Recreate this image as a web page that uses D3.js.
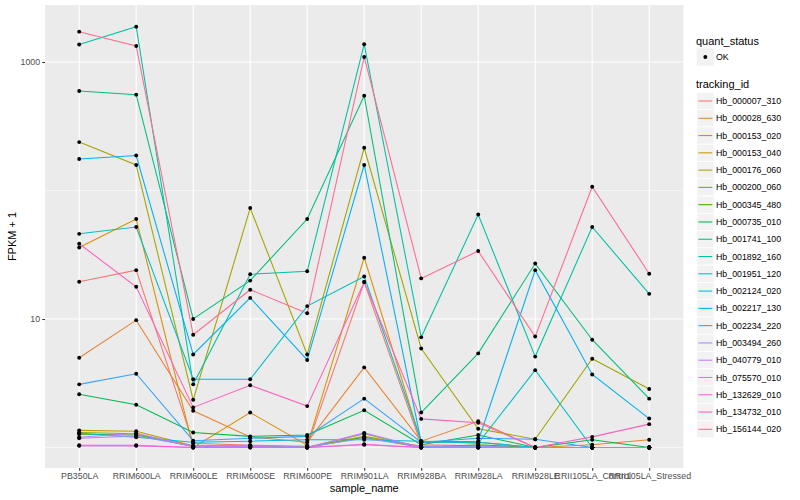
<!DOCTYPE html>
<html>
<head>
<meta charset="utf-8">
<script src="https://cdn.jsdelivr.net/npm/d3@7"></script>
<style>
  body { margin: 0; background: #fff; }
  svg { display: block; font-family: "Liberation Sans", Arial, Helvetica, sans-serif; }
</style>
</head>
<body>
<div id="chart"></div>
<script>
// samples on the x axis
const samples = ["PB350LA", "RRIM600LA", "RRIM600LE", "RRIM600SE", "RRIM600PE", "RRIM901LA",
                 "RRIM928BA", "RRIM928LA", "RRIM928LE", "RRII105LA_Control", "RRII105LA_Stressed"];

// FPKM + 1 per gene, one value per sample
const hb_000007_310 = [19.5, 24, 1.08, 1.04, 1.02, 19.4, 1.05, 1.03, 1.0, 1.0, 1.0];
const hb_000028_630 = [5.0, 9.8, 1.93, 1.21, 1.1, 4.2, 1.12, 1.6, 1.0, 1.05, 1.15];
const hb_000153_020 = [36, 60, 1.0, 1.87, 1.04, 30, 1.1, 1.1, 1.0, 1.0, 1.0];
const hb_000153_040 = [1.36, 1.34, 1.03, 1.03, 1.01, 1.22, 1.02, 1.02, 1.0, 1.0, 1.0];
const hb_000176_060 = [238, 158, 2.35, 73, 5.3, 215, 5.9, 1.40, 1.16, 4.9, 2.85];
const hb_000200_060 = [1.31, 1.28, 1.02, 1.02, 1.0, 1.28, 1.0, 1.0, 1.0, 1.0, 1.0];
const hb_000345_480 = [1.27, 1.25, 1.02, 1.02, 1.0, 1.2, 1.0, 1.05, 1.0, 1.0, 1.0];
const hb_000735_010 = [2.6, 2.15, 1.31, 1.22, 1.25, 1.95, 1.05, 1.25, 1.0, 1.15, 1.0];
const hb_001741_100 = [594, 557, 10, 19.9, 60, 547, 1.87, 5.4, 27, 6.9, 2.4];
const hb_001892_160 = [1368, 1885, 3.1, 22.3, 23.5, 1375, 7.2, 65, 5.1, 52, 15.7];
const hb_001951_120 = [46, 52, 3.4, 3.4, 12.6, 21.4, 1.12, 1.08, 4.0, 1.0, 1.0];
const hb_002124_020 = [1.29, 1.2, 1.1, 1.12, 1.15, 1.15, 1.12, 1.1, 1.0, 1.0, 1.0];
const hb_002217_130 = [176, 187, 5.3, 14.6, 4.8, 158, 1.1, 1.12, 24, 3.7, 1.68];
const hb_002234_220 = [3.1, 3.75, 1.13, 1.18, 1.22, 2.4, 1.1, 1.18, 1.16, 1.0, 1.0];
const hb_003494_260 = [1.18, 1.23, 1.03, 1.04, 1.01, 1.18, 1.02, 1.02, 1.0, 1.0, 1.0];
const hb_040779_010 = [1.2, 1.29, 1.02, 1.02, 1.0, 1.3, 1.0, 1.0, 1.0, 1.0, 1.0];
const hb_075570_010 = [1.03, 1.03, 1.0, 1.0, 1.0, 1.06, 1.0, 1.0, 1.0, 1.0, 1.0];
const hb_132629_010 = [1.04, 1.04, 1.0, 1.0, 1.0, 1.05, 1.0, 1.0, 1.0, 1.0, 1.0];
const hb_134732_010 = [38.5, 17.8, 2.05, 3.05, 2.1, 19.4, 1.67, 1.56, 1.0, 1.21, 1.52];
const hb_156144_020 = [1722, 1333, 7.55, 16.9, 11.1, 1094, 20.7, 33.8, 7.3, 107, 22.5];

const trackingIds = ["Hb_000007_310", "Hb_000028_630", "Hb_000153_020", "Hb_000153_040", "Hb_000176_060",
                     "Hb_000200_060", "Hb_000345_480", "Hb_000735_010", "Hb_001741_100", "Hb_001892_160",
                     "Hb_001951_120", "Hb_002124_020", "Hb_002217_130", "Hb_002234_220", "Hb_003494_260",
                     "Hb_040779_010", "Hb_075570_010", "Hb_132629_010", "Hb_134732_010", "Hb_156144_020"];
const seriesValues = [hb_000007_310, hb_000028_630, hb_000153_020, hb_000153_040, hb_000176_060,
                      hb_000200_060, hb_000345_480, hb_000735_010, hb_001741_100, hb_001892_160,
                      hb_001951_120, hb_002124_020, hb_002217_130, hb_002234_220, hb_003494_260,
                      hb_040779_010, hb_075570_010, hb_132629_010, hb_134732_010, hb_156144_020];

const yTicks = [10, 1000];
const yMinor = [1, 100];

// ggplot hue palette, 20 levels
const palette = ["#F8766D", "#EA8331", "#D89000", "#C09B00", "#A3A500", "#7CAE00", "#39B600", "#00BB4E",
                 "#00BF7D", "#00C1A3", "#00BFC4", "#00BAE0", "#00B0F6", "#35A2FF", "#9590FF", "#C77CFF",
                 "#E76BF3", "#FA62DB", "#FF62BC", "#FF6C91"];

let series = trackingIds.map(function(id, i){
    return { id: id, values: samples.map(function(s, j){ return { sample: s, v: seriesValues[i][j] }; }) };
});

let W = 800, H = 500;
let panel = { left: 45, right: 683.4, top: 5, bottom: 468 };

let svg = d3.select("#chart").append("svg")
            .attr("width", W).attr("height", H);

//define scales
let xScale = d3.scalePoint()
               .domain(samples)
               .range([panel.left, panel.right])
               .padding(0.6);
let yScale = d3.scaleLog()
               .domain([Math.pow(10, -0.1595), Math.pow(10, 3.4436)])
               .range([panel.bottom, panel.top]);
let color = d3.scaleOrdinal().domain(trackingIds).range(palette);

//panel background and grid
svg.append("rect")
   .attr("x", panel.left).attr("y", panel.top)
   .attr("width", panel.right - panel.left).attr("height", panel.bottom - panel.top)
   .attr("fill", "#EBEBEB");

let grid = svg.append("g");
grid.selectAll(".minor")
    .data(yMinor).enter().append("line")
    .attr("x1", panel.left).attr("x2", panel.right)
    .attr("y1", function(d){ return yScale(d); }).attr("y2", function(d){ return yScale(d); })
    .attr("stroke", "#fff").attr("stroke-width", 0.55);
grid.selectAll(".major")
    .data(yTicks).enter().append("line")
    .attr("x1", panel.left).attr("x2", panel.right)
    .attr("y1", function(d){ return yScale(d); }).attr("y2", function(d){ return yScale(d); })
    .attr("stroke", "#fff").attr("stroke-width", 1.1);
grid.selectAll(".vmajor")
    .data(samples).enter().append("line")
    .attr("x1", function(d){ return xScale(d); }).attr("x2", function(d){ return xScale(d); })
    .attr("y1", panel.top).attr("y2", panel.bottom)
    .attr("stroke", "#fff").attr("stroke-width", 1.1);

//lines
let line = d3.line()
             .x(function(d){ return xScale(d.sample); })
             .y(function(d){ return yScale(d.v); });

svg.append("g").selectAll("path")
   .data(series).enter().append("path")
   .attr("d", function(d){ return line(d.values); })
   .attr("fill", "none")
   .attr("stroke", function(d){ return color(d.id); })
   .attr("stroke-width", 1.07);

//points
let pts = [];
series.forEach(function(s){ s.values.forEach(function(p){ pts.push(p); }); });
svg.append("g").selectAll("circle")
   .data(pts).enter().append("circle")
   .attr("cx", function(d){ return xScale(d.sample); })
   .attr("cy", function(d){ return yScale(d.v); })
   .attr("r", 1.95)
   .attr("fill", "#000");

//axes
let xAxis = d3.axisBottom(xScale).tickSize(2.75).tickPadding(2.2);
let yAxis = d3.axisLeft(yScale).tickValues(yTicks).tickFormat(d3.format("d")).tickSize(2.75).tickPadding(2.2);

let gx = svg.append("g")
   .attr("transform", "translate(0," + panel.bottom + ")")
   .call(xAxis);
let gy = svg.append("g")
   .attr("transform", "translate(" + panel.left + ",0)")
   .call(yAxis);
[gx, gy].forEach(function(g){
    g.select(".domain").remove();
    g.selectAll(".tick line").attr("stroke", "#333333").attr("stroke-width", 1.07);
    g.selectAll(".tick text").attr("fill", "#4D4D4D").style("font-size", "8.8px")
     .style("font-family", "'Liberation Sans', Arial, sans-serif");
});

svg.append("text")
   .attr("x", (panel.left + panel.right) / 2).attr("y", 492)
   .attr("text-anchor", "middle")
   .style("font-size", "11px")
   .text("sample_name");
svg.append("text")
   .attr("transform", "translate(15.5," + ((panel.top + panel.bottom) / 2) + ") rotate(-90)")
   .attr("text-anchor", "middle")
   .style("font-size", "11px")
   .text("FPKM + 1");

//legend
let keyX = 696.7, keySize = 17.28, labelX = 716;
let legend = svg.append("g");

legend.append("text").attr("x", 696).attr("y", 44.5).style("font-size", "11px").text("quant_status");
legend.append("rect").attr("x", keyX).attr("y", 57 - keySize / 2)
      .attr("width", keySize).attr("height", keySize).attr("fill", "#F2F2F2");
legend.append("circle").attr("cx", keyX + keySize / 2).attr("cy", 57).attr("r", 1.95).attr("fill", "#000");
legend.append("text").attr("x", labelX).attr("y", 57).attr("dy", "0.35em")
      .style("font-size", "8.8px").text("OK");

legend.append("text").attr("x", 696).attr("y", 88.3).style("font-size", "11px").text("tracking_id");

let items = legend.selectAll(".item")
      .data(trackingIds).enter().append("g")
      .attr("transform", function(d, i){ return "translate(0," + (101 + i * keySize) + ")"; });
items.append("rect")
     .attr("x", keyX).attr("y", -keySize / 2)
     .attr("width", keySize).attr("height", keySize)
     .attr("fill", "#F2F2F2").attr("stroke", "#fff").attr("stroke-width", 0.8);
items.append("line")
     .attr("x1", keyX + 1.7).attr("x2", keyX + keySize - 1.7)
     .attr("stroke", function(d){ return color(d); }).attr("stroke-width", 1.07);
items.append("text")
     .attr("x", labelX).attr("dy", "0.35em")
     .style("font-size", "8.8px")
     .text(function(d){ return d; });
</script>
</body>
</html>
